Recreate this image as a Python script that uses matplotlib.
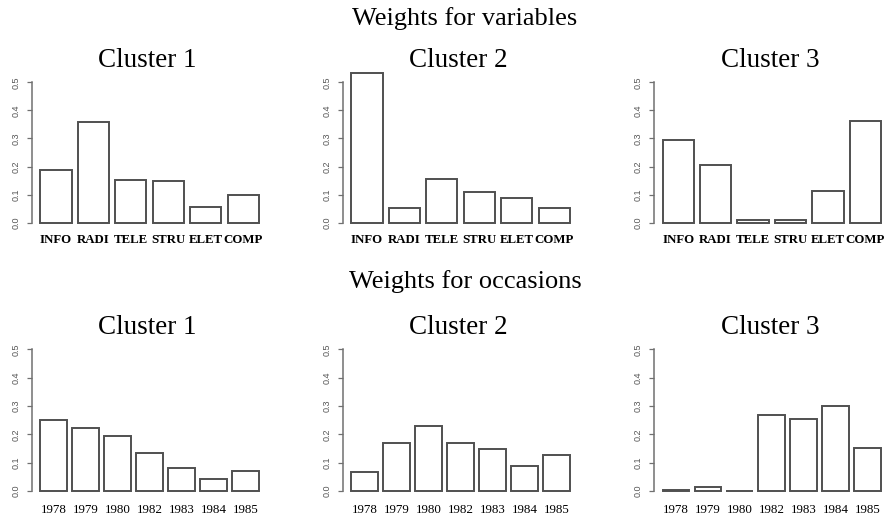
import matplotlib
matplotlib.use("Agg")
import matplotlib.pyplot as plt

variables = ["INFO", "RADI", "TELE", "STRU", "ELET", "COMP"]
occasions = ["1978", "1979", "1980", "1982", "1983", "1984", "1985"]

var_c1 = [0.186, 0.358, 0.152, 0.148, 0.056, 0.097]
var_c2 = [0.532, 0.053, 0.157, 0.110, 0.087, 0.053]
var_c3 = [0.295, 0.207, 0.008, 0.011, 0.114, 0.362]

occ_c1 = [0.252, 0.224, 0.193, 0.135, 0.080, 0.044, 0.071]
occ_c2 = [0.067, 0.168, 0.231, 0.168, 0.148, 0.088, 0.128]
occ_c3 = [0.003, 0.014, 0.000, 0.267, 0.254, 0.301, 0.153]

cluster_titles = ["Cluster 1", "Cluster 2", "Cluster 3"]
row_titles = ["Weights for variables", "Weights for occasions"]
yticks = [0.0, 0.1, 0.2, 0.3, 0.4, 0.5]

W, H = 891, 517
fig = plt.figure(figsize=(W / 100, H / 100), dpi=100)
fig.patch.set_facecolor("white")

SERIF = "Liberation Serif"
SANS = "Liberation Sans"
EDGE = "#505050"
AXC = "#707070"

lefts = [31.6, 342.6, 653.8]
axw = 236.0
# (bottom px from top, top px from top) of axes for each row
rows = [(228.3, 65.45), (496.7, 332.3)]
ylim = (-0.02, 0.56)


def draw(ax, cats, vals, bold, pad):
    n = len(cats)
    centers = [0.7 + 1.2 * i for i in range(n)]
    ax.bar(centers, vals, width=1.0, facecolor="white", edgecolor=EDGE,
           linewidth=1.4)
    ext = 0.04 * (1.2 * n - 0.2)
    ax.set_xlim(0.2 - ext, 1.2 * n + ext)
    ax.set_ylim(*ylim)
    for s in ["top", "right", "bottom"]:
        ax.spines[s].set_visible(False)
    ax.spines["left"].set_bounds(0, 0.5)
    ax.spines["left"].set_color(AXC)
    ax.spines["left"].set_linewidth(1.1)
    ax.set_xticks(centers)
    ax.set_xticklabels(cats, fontfamily=SERIF, fontsize=9.3 if bold else 9.4,
                       fontweight="bold" if bold else "normal")
    ax.tick_params(axis="x", length=0, pad=pad)
    ax.set_yticks(yticks)
    ax.set_yticklabels([f"{v:.1f}" for v in yticks], rotation=90,
                       va="center", fontfamily=SANS, fontsize=6.5,
                       color="#555555")
    ax.tick_params(axis="y", length=3.6, width=0.9, color=AXC, pad=4.5)
    ax.patch.set_alpha(0)


data_rows = [
    (variables, [var_c1, var_c2, var_c3], True, 4.0),
    (occasions, [occ_c1, occ_c2, occ_c3], False, 5.0),
]

for r, (cats, series, bold, pad) in enumerate(data_rows):
    bpx, tpx = rows[r]
    for c in range(3):
        ax = fig.add_axes([lefts[c] / W, (H - bpx) / H, axw / W, (bpx - tpx) / H])
        draw(ax, cats, series[c], bold, pad)

title_y = [67, 334]
for r in range(2):
    for c in range(3):
        fig.text((lefts[c] + axw / 2 - 2) / W, (H - title_y[r]) / H,
                 cluster_titles[c], ha="center", va="baseline",
                 fontfamily=SERIF, fontsize=19.5)

row_y = [25, 288]
for r in range(2):
    fig.text(465 / W, (H - row_y[r]) / H, row_titles[r], ha="center",
             va="baseline", fontfamily=SERIF, fontsize=19.0)

fig.savefig("out.png", dpi=100, facecolor="white")
